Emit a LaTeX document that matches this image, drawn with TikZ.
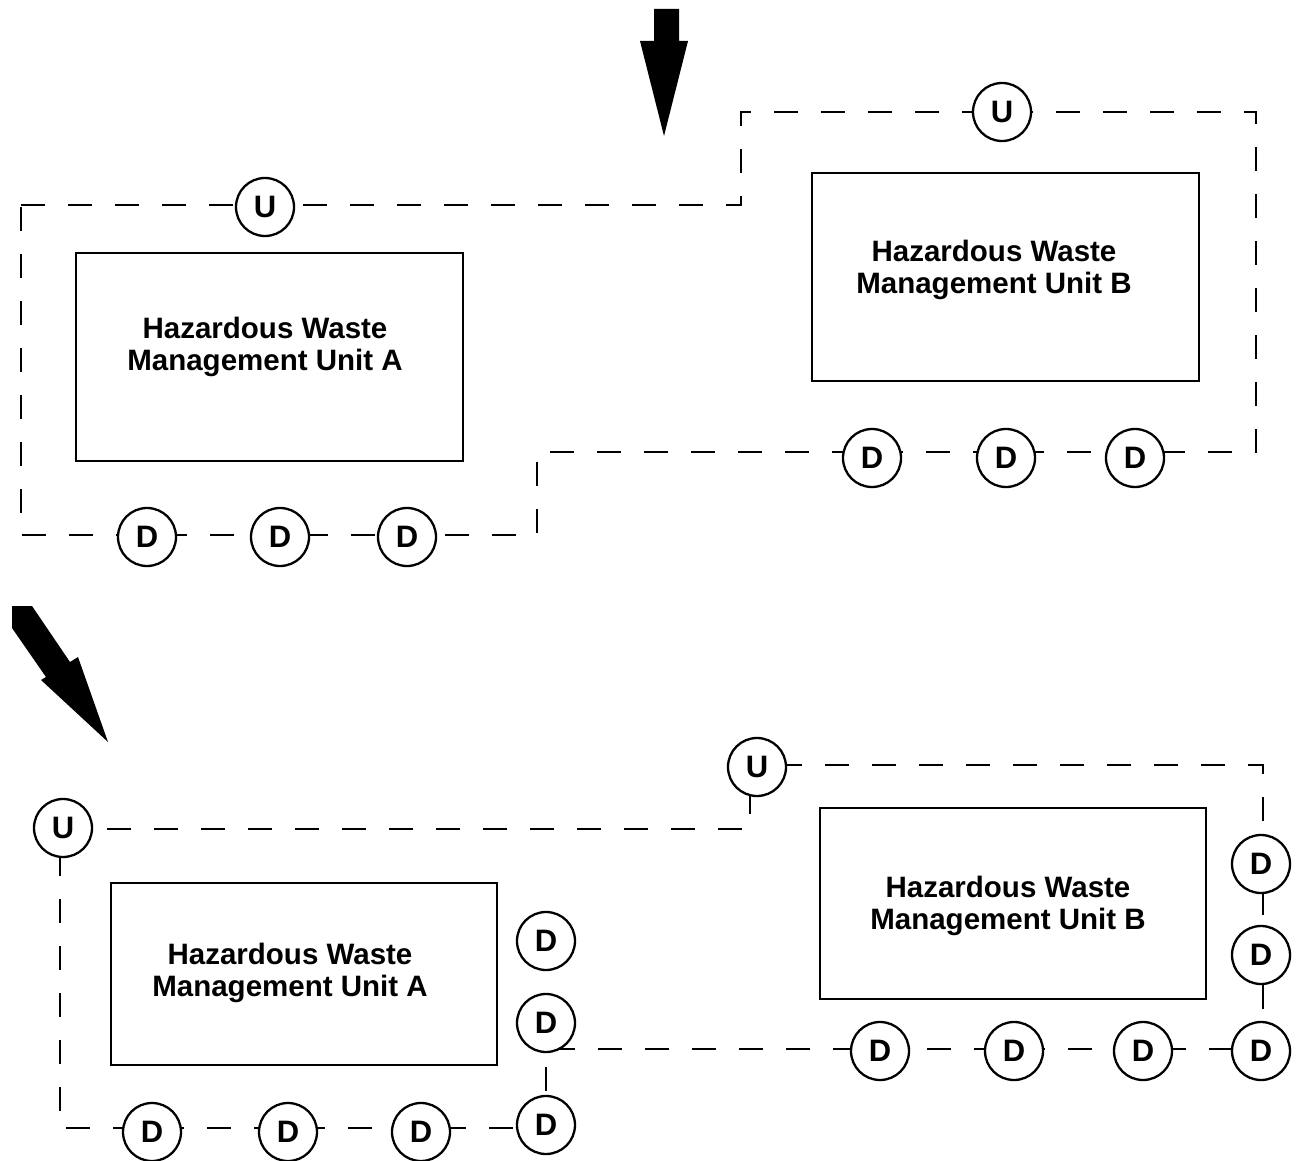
\documentclass[tikz,border=0pt]{standalone}
\usepackage{fontspec}
\setmainfont{Liberation Sans}
\usepackage{tikz}

\begin{document}
\begin{tikzpicture}[x=1pt,y=-1pt,
  unitbox/.style={draw, line width=2.8pt, minimum width=387pt, inner sep=0pt},
  unitlabel/.style={font=\fontsize{29.5}{32}\selectfont\bfseries, align=center},
  well/.style={circle, draw, line width=2.3pt, fill=white, minimum size=58pt, inner sep=0pt, font=\fontsize{31}{31}\selectfont\bfseries},
  boundary/.style={line width=2.4pt, dash pattern=on 24pt off 23pt}]
\useasboundingbox (0,0) rectangle (1296,1161);

% Flow arrows
\fill (654,9) -- (679,9) -- (679,41) -- (688,41) -- (664,136) -- (640,41) -- (654,41) -- cycle;
\fill (12,606) -- (32,606) -- (70,662) -- (78,657) -- (108,742) -- (41,680) -- (46,677) -- (12,628) -- cycle;

% Upper layout: one common boundary
\draw[boundary] (21,205) -- (741,205) -- (741,112) -- (1256,112) -- (1256,452) -- (537,452) -- (537,535) -- (21,535) -- cycle;
\node[unitbox, minimum height=208pt] (boxA) at (269.5,357) {};
\node[unitlabel] (labA) at (265,347) {Hazardous Waste\\Management Unit A};
\node[unitbox, minimum height=208pt] (boxB) at (1005.5,277) {};
\node[unitlabel] (labB) at (994,270) {Hazardous Waste\\Management Unit B};
\node[well] (upA) at (265,207) {U};
\node[well] (upB) at (1002,112) {U};
\node[well] (dnA1) at (147,537) {D};
\node[well] (dnA2) at (280,537) {D};
\node[well] (dnA3) at (407,537) {D};
\node[well] (dnB1) at (872,458) {D};
\node[well] (dnB2) at (1006,458) {D};
\node[well] (dnB3) at (1135,458) {D};

% Lower layout: separate downgradient wells
\draw[boundary] (750,790) -- (750,829) -- (60,829) -- (60,1128) -- (546,1128) -- (546,1049) -- (1263,1049) -- (1263,765) -- (757,765);
\node[unitbox, minimum width=386pt, minimum height=182pt] (boxC) at (304,974) {};
\node[unitlabel] (labC) at (290,973) {Hazardous Waste\\Management Unit A};
\node[unitbox, minimum width=386pt, minimum height=191pt] (boxD) at (1013,903.5) {};
\node[unitlabel] (labD) at (1008,906) {Hazardous Waste\\Management Unit B};
\node[well] (upC) at (63,828) {U};
\node[well] (upD) at (757,767) {U};
\node[well] (dnC1) at (152,1132) {D};
\node[well] (dnC2) at (288,1132) {D};
\node[well] (dnC3) at (421,1132) {D};
\node[well] (dnC4) at (546,1125) {D};
\node[well] (dnC5) at (546,1023) {D};
\node[well] (dnC6) at (546,941) {D};
\node[well] (dnD1) at (880,1051) {D};
\node[well] (dnD2) at (1014,1051) {D};
\node[well] (dnD3) at (1143,1051) {D};
\node[well] (dnD4) at (1261,1051) {D};
\node[well] (dnD5) at (1261,955) {D};
\node[well] (dnD6) at (1261,864) {D};
\end{tikzpicture}
\end{document}
